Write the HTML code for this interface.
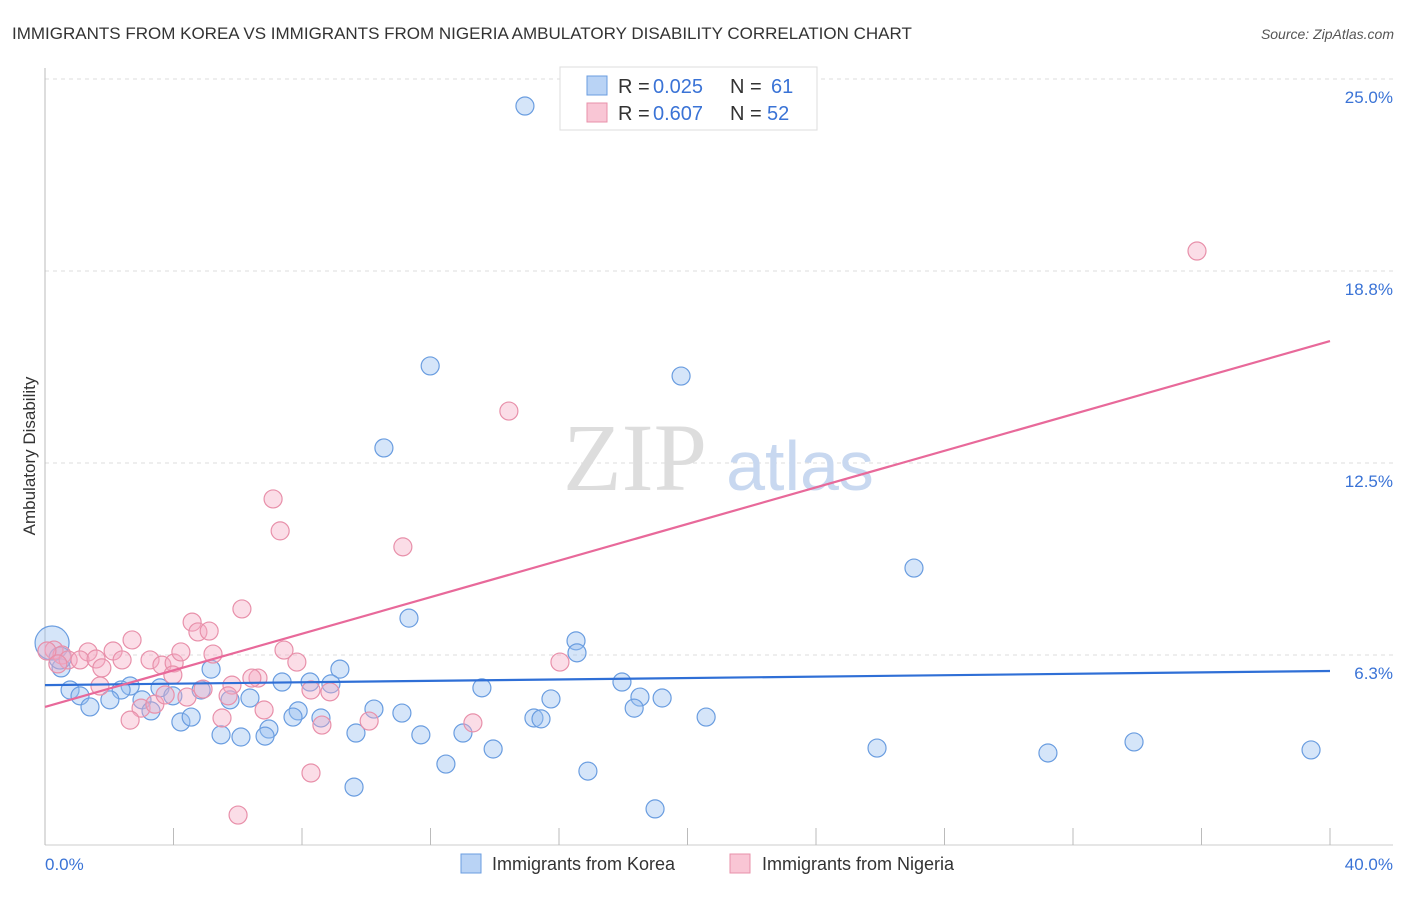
<!DOCTYPE html>
<html><head><meta charset="utf-8"><style>
body{margin:0;background:#fff;font-family:"Liberation Sans",sans-serif;}
</style></head><body>
<svg width="1406" height="892" font-family="Liberation Sans, sans-serif">
<text x="12" y="39" font-size="17" fill="#333">IMMIGRANTS FROM KOREA VS IMMIGRANTS FROM NIGERIA AMBULATORY DISABILITY CORRELATION CHART</text>
<text x="1394" y="39" font-size="14" fill="#555" font-style="italic" text-anchor="end">Source: ZipAtlas.com</text>
<g id="grid"></g>
<g id="watermark">
<text x="635" y="490" font-size="96" font-family="Liberation Serif, serif" fill="#ddd" text-anchor="middle">ZIP</text>
<text x="800" y="490" font-size="70" fill="#c8d8f0" text-anchor="middle">atlas</text></g>
<g id="pts"></g>
<g id="lines"></g>
<text x="35" y="456" font-size="17" fill="#333" text-anchor="middle" transform="rotate(-90 35 456)">Ambulatory Disability</text>
<text x="45" y="870" font-size="17" fill="#3a73d6">0.0%</text>
<text x="1393" y="870" font-size="17" fill="#3a73d6" text-anchor="end">40.0%</text>
<g>
<rect x="560" y="67" width="257" height="63" fill="#fff" stroke="#ddd"/>
<rect x="587" y="76" width="20" height="19" fill="#b9d3f5" stroke="#6a9de0"/>
<rect x="587" y="103" width="20" height="19" fill="#f9c6d5" stroke="#e890aa"/>
<text x="618" y="93" font-size="20" fill="#333">R =</text>
<text x="653" y="93" font-size="20" fill="#3a73d6">0.025</text>
<text x="730" y="93" font-size="20" fill="#333">N =</text>
<text x="771" y="93" font-size="20" fill="#3a73d6">61</text>
<text x="618" y="120" font-size="20" fill="#333">R =</text>
<text x="653" y="120" font-size="20" fill="#3a73d6">0.607</text>
<text x="730" y="120" font-size="20" fill="#333">N =</text>
<text x="767" y="120" font-size="20" fill="#3a73d6">52</text>
</g>
<g>
<rect x="461" y="854" width="20" height="19" fill="#b9d3f5" stroke="#6a9de0"/>
<text x="492" y="870" font-size="18" fill="#333">Immigrants from Korea</text>
<rect x="730" y="854" width="20" height="19" fill="#f9c6d5" stroke="#e890aa"/>
<text x="762" y="870" font-size="18" fill="#333">Immigrants from Nigeria</text>
</g>
</svg>
<script>
const yTicks=[6.25,12.5,18.75,25];
const yTickLabels=["6.3%","12.5%","18.8%","25.0%"];
const xTicks=[0,4,8,12,16,20,24,28,32,36,40];
const koreaX=[14.94,11.99,19.80,10.55,27.05,11.33,16.53,16.56,5.17,9.18,17.96,7.38,8.25,8.90,2.65,3.58,13.60,0.78,2.37,4.86,1.09,18.52,19.21,2.02,3.02,6.38,3.98,5.76,15.75,1.40,3.30,7.88,10.24,11.11,18.34,7.72,8.59,4.23,4.55,15.22,15.44,20.58,6.97,5.48,6.10,6.85,9.68,11.70,13.01,13.95,25.90,31.22,33.90,39.41,12.48,16.90,9.62,18.99,0.50,0.22,0.47];
const koreaY=[24.12,15.66,15.33,12.99,9.08,7.45,6.71,6.32,5.79,5.79,5.37,5.37,5.37,5.31,5.24,5.18,5.18,5.11,5.11,5.11,4.92,4.88,4.85,4.79,4.79,4.85,4.92,4.79,4.82,4.56,4.43,4.43,4.49,4.36,4.52,4.23,4.20,4.07,4.23,4.20,4.17,4.23,3.84,3.65,3.58,3.61,3.71,3.65,3.71,3.19,3.22,3.06,3.42,3.16,2.70,2.47,1.95,1.24,5.83,6.64,6.15];
const koreaR=[9,9,9,9,9,9,9,9,9,9,9,9,9,9,9,9,9,9,9,9,9,9,9,9,9,9,9,9,9,9,9,9,9,9,9,9,9,9,9,9,9,9,9,9,9,9,9,9,9,9,9,9,9,9,9,9,9,9,9,17,11];
const nigeriaX=[35.86,14.44,7.10,7.32,11.14,6.13,4.58,4.76,5.11,2.71,0.28,0.53,1.34,0.72,1.09,1.59,2.12,2.40,3.27,3.64,4.02,4.23,5.23,7.44,7.84,16.03,1.77,3.98,5.82,6.63,6.44,4.92,4.42,5.70,8.28,8.87,2.99,3.42,6.82,5.51,2.65,10.09,13.32,8.62,8.28,6.01,0.06,0.40,1.71,3.74];
const nigeriaY=[19.40,14.19,11.33,10.29,9.77,7.75,7.32,7.00,7.03,6.74,6.41,6.25,6.35,6.09,6.09,6.12,6.38,6.09,6.09,5.92,5.99,6.35,6.28,6.41,6.02,6.02,5.83,5.60,5.27,5.50,5.50,5.14,4.88,4.92,5.11,5.05,4.52,4.65,4.46,4.20,4.13,4.10,4.04,3.97,2.41,1.04,6.38,5.96,5.24,4.95];
const koreaTrend=[5.27,5.73];
const nigeriaTrend=[4.56,16.47];
const NS="http://www.w3.org/2000/svg";
function sx(v){return 45+v*(1285/40);}
function sy(v){return 847-v*30.72;}
function mk(t,a,p){const e=document.createElementNS(NS,t);for(const k in a)e.setAttribute(k,a[k]);p.appendChild(e);return e;}
const grid=document.getElementById('grid');
yTicks.forEach((v,i)=>{
 const l=mk('line',{x1:45,x2:1393,y1:sy(v),y2:sy(v),stroke:'#ddd','stroke-dasharray':'4,4'},grid);
 
 
 const t=mk('text',{x:1393,y:sy(v)+24,'font-size':17,fill:'#3a73d6','text-anchor':'end'},grid);
 t.textContent=yTickLabels[i];
 
 
});
const ax=mk('line',{x1:45,x2:45,y1:68,y2:845,stroke:'#bbb'},grid);


const bx=mk('line',{x1:45,x2:1393,y1:845,y2:845,stroke:'#ccc'},grid);


xTicks.forEach(v=>{
 const l=mk('line',{x1:sx(v),x2:sx(v),y1:828,y2:845,stroke:'#bbb'},grid);
 
 
});
const pts=document.getElementById('pts');
koreaX.forEach((x,i)=>{
 const c=mk('circle',{cx:sx(x),cy:sy(koreaY[i]),r:koreaR[i],fill:'rgba(150,190,240,0.4)',stroke:'#6a9de0','stroke-width':1.2},pts);
 
 
});
nigeriaX.forEach((x,i)=>{
 const c=mk('circle',{cx:sx(x),cy:sy(nigeriaY[i]),r:9,fill:'rgba(245,170,195,0.4)',stroke:'#e890aa','stroke-width':1.2},pts);
 
 
});
const lines=document.getElementById('lines');
const kl=mk('line',{x1:sx(0),x2:sx(40),y1:sy(koreaTrend[0]),y2:sy(koreaTrend[1]),stroke:'#2f6fd6','stroke-width':2.2},lines);


const nl=mk('line',{x1:sx(0),x2:sx(40),y1:sy(nigeriaTrend[0]),y2:sy(nigeriaTrend[1]),stroke:'#e8699a','stroke-width':2.2},lines);


</script>
</body></html>
